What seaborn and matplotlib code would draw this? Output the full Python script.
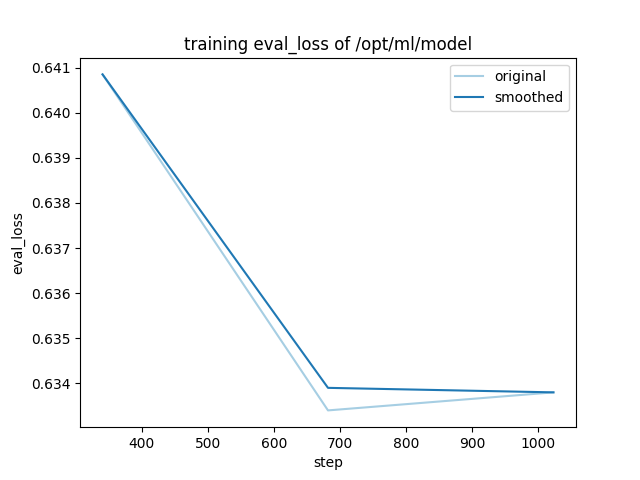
import pandas as pd
import seaborn as sns
import matplotlib
matplotlib.use("Agg")
import matplotlib.pyplot as plt

# -----------------------------
# Data
# -----------------------------
steps = [341, 682, 1023]
original = [0.64085, 0.63340, 0.63380]
smoothed = [0.64085, 0.63390, 0.63380]

df = pd.DataFrame({
    "step": steps * 2,
    "eval_loss": original + smoothed,
    "series": ["original"] * len(steps) + ["smoothed"] * len(steps),
})

# -----------------------------
# Plot
# -----------------------------
palette = sns.color_palette("Paired", 2)

fig, ax = plt.subplots(figsize=(6.4, 4.8), dpi=100)
sns.lineplot(data=df, x="step", y="eval_loss", hue="series",
             palette=palette, ax=ax)
ax.set_title("training eval_loss of /opt/ml/model")
ax.set_xlabel("step")
ax.set_ylabel("eval_loss")
ax.legend(loc="upper right")

fig.savefig("out.png")
